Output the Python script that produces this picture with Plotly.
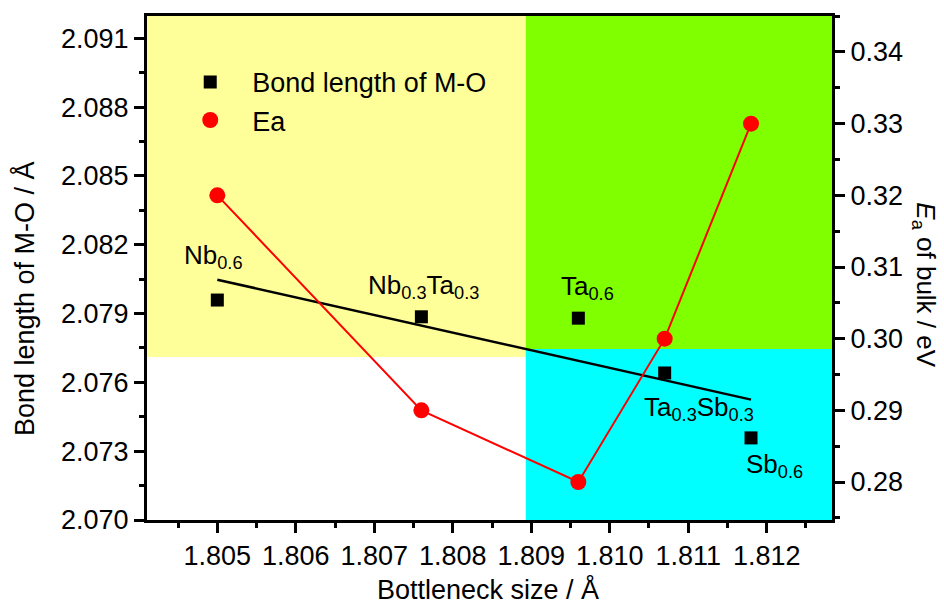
import numpy as np
import plotly.graph_objects as go

# ---- data ----
bottleneck = [1.8050, 1.8076, 1.8096, 1.8107, 1.8118]
bond_length = [2.07959, 2.07886, 2.07880, 2.07641, 2.07358]
ea = [0.320, 0.290, 0.280, 0.300, 0.330]
point_labels = ["Nb<sub>0.6</sub>", "Nb<sub>0.3</sub>Ta<sub>0.3</sub>", "Ta<sub>0.6</sub>",
                "Ta<sub>0.3</sub>Sb<sub>0.3</sub>", "Sb<sub>0.6</sub>"]
x_ticks = [1.805, 1.806, 1.807, 1.808, 1.809, 1.810, 1.811, 1.812]

# region boundaries (data units)
x_split = 1.80893
y_split_yellow = 2.07711
y_split_right = 2.07746

XR = [1.804104, 1.812832]
YR = [2.070, 2.091974]
Y2R = [0.27470, 0.34502]

FONT = "Liberation Sans, Arial, sans-serif"

# linear fit of bond length
slope, intercept = np.polyfit(bottleneck, bond_length, 1)
fit_x = [bottleneck[0], bottleneck[-1]]
fit_y = [slope * v + intercept for v in fit_x]

fig = go.Figure()

fig.add_trace(go.Scatter(x=fit_x, y=fit_y, mode="lines",
                         line=dict(color="black", width=2.5), showlegend=False, hoverinfo="skip"))
fig.add_trace(go.Scatter(x=bottleneck, y=ea, mode="lines", yaxis="y2",
                         line=dict(color="#ff0000", width=2), showlegend=False, hoverinfo="skip"))
fig.add_trace(go.Scatter(x=bottleneck, y=bond_length, mode="markers", name="Bond length of M-O",
                         marker=dict(symbol="square", size=13, color="black")))
fig.add_trace(go.Scatter(x=bottleneck, y=ea, mode="markers", name="Ea", yaxis="y2",
                         marker=dict(symbol="circle", size=16, color="#ff0000")))

shapes = [
    dict(type="rect", xref="x", yref="y", x0=XR[0], x1=x_split, y0=y_split_yellow, y1=YR[1],
         fillcolor="#ffff99", line=dict(width=0), layer="below"),
    dict(type="rect", xref="x", yref="y", x0=x_split, x1=XR[1], y0=y_split_right, y1=YR[1],
         fillcolor="#80ff00", line=dict(width=0), layer="below"),
    dict(type="rect", xref="x", yref="y", x0=x_split, x1=XR[1], y0=YR[0], y1=y_split_right,
         fillcolor="#00ffff", line=dict(width=0), layer="below"),
]

# label offsets in pixels relative to the square markers
label_shift = [(-35, 44), (-55, 30), (-19, 31), (-23, -36), (-7, -28)]
annotations = []
for xv, yv, txt, (dx, dy) in zip(bottleneck, bond_length, point_labels, label_shift):
    annotations.append(dict(x=xv, y=yv, xref="x", yref="y", text=txt, showarrow=False,
                            xanchor="left", yanchor="middle", xshift=dx, yshift=dy,
                            font=dict(size=26, color="black", family=FONT)))

annotations += [
    dict(text="Bond length of M-O / Å", xref="paper", yref="paper", x=-0.178, y=0.4385,
         textangle=-90, showarrow=False, xanchor="center", yanchor="middle",
         font=dict(size=27, color="black", family=FONT)),
    dict(text="<i>E</i><sub>a</sub> of bulk / eV", xref="paper", yref="paper", x=1.1355, y=0.466,
         textangle=90, showarrow=False, xanchor="center", yanchor="middle",
         font=dict(size=26, color="black", family=FONT)),
    dict(text="Bottleneck size / Å", xref="paper", yref="paper", x=0.498, y=-0.137,
         showarrow=False, xanchor="center", yanchor="middle",
         font=dict(size=27, color="black", family=FONT)),
]

axis_common = dict(showgrid=False, zeroline=False, ticks="outside", ticklen=10, tickwidth=2.5,
                   tickcolor="black", showline=True, linecolor="black", linewidth=3,
                   tickfont=dict(size=27, color="black", family=FONT))

fig.update_layout(
    width=944, height=604,
    margin=dict(l=147, r=112, t=16, b=84),
    paper_bgcolor="white", plot_bgcolor="white",
    font=dict(family=FONT, color="black"),
    shapes=shapes, annotations=annotations,
    xaxis=dict(range=XR, tickvals=x_ticks, tickformat=".3f", mirror=True,
               minor=dict(dtick=0.0005, tick0=1.8045, ticks="outside", ticklen=5, tickwidth=2.5,
                          tickcolor="black"),
               **axis_common),
    yaxis=dict(range=YR, tick0=2.070, dtick=0.003, tickformat=".3f",
               minor=dict(dtick=0.0015, tick0=2.070, ticks="outside", ticklen=5, tickwidth=2.5,
                          tickcolor="black"),
               **axis_common),
    yaxis2=dict(range=Y2R, overlaying="y", side="right", tick0=0.28, dtick=0.01, tickformat=".2f",
                minor=dict(dtick=0.005, tick0=0.28, ticks="outside", ticklen=5, tickwidth=2.5,
                           tickcolor="black"),
                **axis_common),
    legend=dict(x=0.031, y=0.917, xanchor="left", yanchor="top", bgcolor="rgba(0,0,0,0)",
                itemwidth=74, tracegroupgap=0, font=dict(size=27, color="black", family=FONT)),
    showlegend=True,
)

fig.write_html("out.html")
